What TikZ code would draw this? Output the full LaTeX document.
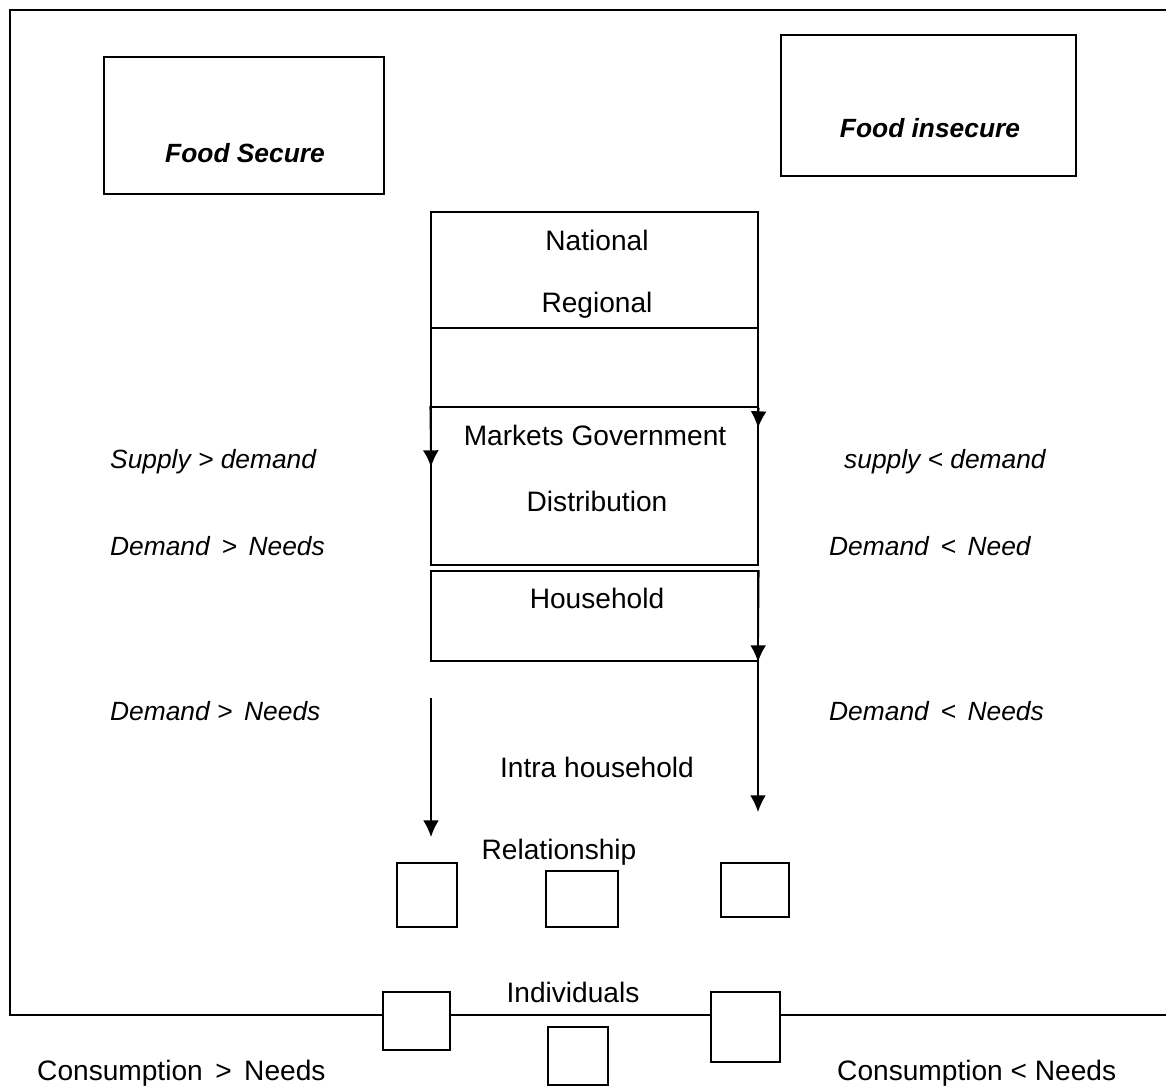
\documentclass[tikz,border=0pt]{standalone}
\usepackage{fontspec}
\setmainfont{Liberation Sans}
\usetikzlibrary{arrows.meta}

\begin{document}
\begin{tikzpicture}[x=0.02cm, y=-0.02cm,
    every node/.style={font=\fontsize{16}{19}\selectfont},
    box/.style={draw, line width=0.9pt, fill=white, inner sep=0pt},
    lbl/.style={font=\fontsize{15}{18}\selectfont\itshape, anchor=west},
    arr/.style={line width=0.9pt, -{Latex[length=9.5pt, width=9pt]}}]
              \useasboundingbox (0,0) rectangle (1166,1090);

              % Cornice
              \draw[line width=0.9pt] (1166,10) -- (10,10) -- (10,1015) -- (1166,1015);

              % Nodi
              \node[box, minimum width=5.6cm, minimum height=2.74cm] (0) at (244,125.5) {};
              \node[box, minimum width=5.9cm, minimum height=2.82cm] (1) at (928.5,105.5) {};
              \node[box, minimum width=6.54cm, minimum height=2.32cm] (2) at (594.5,270) {};
              \node[box, minimum width=6.54cm, minimum height=1.58cm] (3) at (594.5,367.5) {};
              \node[box, minimum width=6.54cm, minimum height=3.16cm] (4) at (594.5,486) {};
              \node[box, minimum width=6.54cm, minimum height=1.8cm] (5) at (594.5,616) {};
              \node[box, minimum width=1.2cm, minimum height=1.28cm] (6) at (427,895) {};
              \node[box, minimum width=1.44cm, minimum height=1.12cm] (7) at (582,899) {};
              \node[box, minimum width=1.36cm, minimum height=1.08cm] (8) at (755,890) {};
              \node[box, minimum width=1.34cm, minimum height=1.16cm] (9) at (416.5,1021) {};
              \node[box, minimum width=1.2cm, minimum height=1.16cm] (10) at (578,1056) {};
              \node[box, minimum width=1.38cm, minimum height=1.4cm] (11) at (745.5,1027) {};

              % Testi
              \node[font=\fontsize{15}{18}\selectfont\bfseries\itshape] (12) at (245,153) {Food Secure};
              \node[font=\fontsize{15}{18}\selectfont\bfseries\itshape] (13) at (930,128) {Food insecure};
              \node (14) at (597,240) {National};
              \node (15) at (597,305) {Regional};
              \node (16) at (595,435) {Markets Government};
              \node (17) at (597,501) {Distribution};
              \node (18) at (597,598) {Household};
              \node (19) at (597,767) {Intra household};
              \node (20) at (559,852) {Relationship};
              \node (21) at (573,992) {Individuals};
              \node[lbl] (22) at (104,462) {Supply > demand};
              \node[lbl] (23) at (838,462) {supply < demand};
              \node[lbl] (24) at (104,546) {Demand \,>\, Needs};
              \node[lbl] (25) at (823,546) {Demand \,<\, Need};
              \node[lbl] (26) at (104,711) {Demand >\, Needs};
              \node[lbl] (27) at (823,711) {Demand \,<\, Needs};
              \node[anchor=west] (28) at (31,1073) {Consumption \,>\, Needs};
              \node[anchor=west] (29) at (831,1073) {Consumption < Needs};

              % Archi
              \coordinate (a) at (431,467);
              \coordinate (b) at (758,428);
              \coordinate (c) at (758,662);
              \coordinate (d) at (758,812);
              \coordinate (e) at (431,698);
              \coordinate (f) at (431,837);
              \draw[arr] (4.north west) -- (a);
              \draw[arr] (3.south east) -- (b);
              \draw[arr] (5.north east) -- (c);
              \draw[arr] (c) -- (d);
              \draw[arr] (e) -- (f);
        \end{tikzpicture}
\end{document}
